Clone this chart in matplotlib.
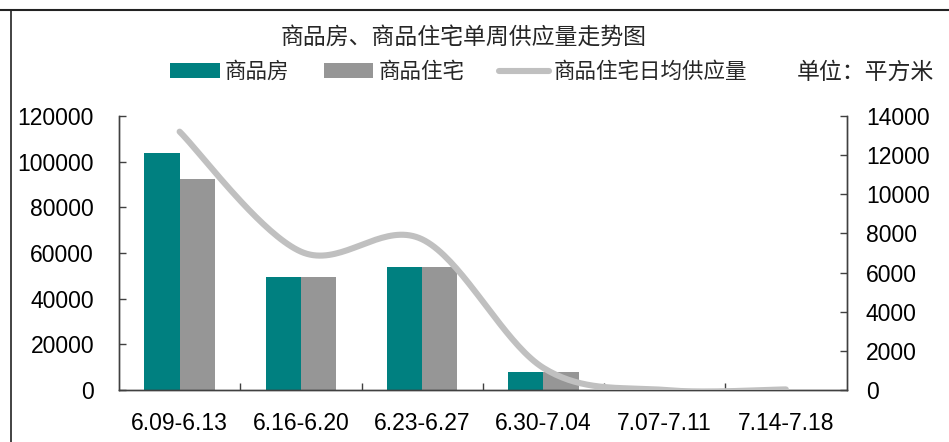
import numpy as np
import matplotlib
matplotlib.use("Agg")
import matplotlib.pyplot as plt
from matplotlib.patches import Patch
from matplotlib.lines import Line2D
from matplotlib.ticker import FixedLocator, NullFormatter, FixedFormatter

CJK = ["Noto Sans CJK SC", "DejaVu Sans"]
NUM = ["Liberation Sans", "DejaVu Sans"]

weeks = ["6.09-6.13", "6.16-6.20", "6.23-6.27", "6.30-7.04", "7.07-7.11", "7.14-7.18"]
commercial = [104000, 49500, 53900, 7900, 0, 0]        # 商品房
residential = [92400, 49500, 53900, 7900, 0, 0]       # 商品住宅
daily_avg = [13200, 7070, 7700, 1130, 0, 30]          # 商品住宅日均供应量
left_ticks = [0, 20000, 40000, 60000, 80000, 100000, 120000]
right_ticks = [0, 2000, 4000, 6000, 8000, 10000, 12000, 14000]

TEAL = "#008080"
GRAY = "#969696"
LINE = "#C0C0C0"
SPINE = "#404040"
TEXT = "#262626"


def smooth(xs, ys, n=40):
    """Cubic Bezier smoothing through every point (spreadsheet-style)."""
    xs = np.asarray(xs, float)
    ys = np.asarray(ys, float)
    pts = np.column_stack([xs, ys])
    m = len(pts)
    out = []
    t = np.linspace(0, 1, n)[:, None]
    for i in range(m - 1):
        p0 = pts[max(i - 1, 0)]
        p1 = pts[i]
        p2 = pts[i + 1]
        p3 = pts[min(i + 2, m - 1)]
        c1 = p1 + (p2 - p0) / 6.0
        c2 = p2 - (p3 - p1) / 6.0
        seg = ((1 - t) ** 3) * p1 + 3 * ((1 - t) ** 2) * t * c1 + 3 * (1 - t) * t ** 2 * c2 + t ** 3 * p2
        out.append(seg if i == 0 else seg[1:])
    seg = np.vstack(out)
    return seg[:, 0], seg[:, 1]


fig = plt.figure(figsize=(9.49, 4.42), dpi=100)
ax = fig.add_axes([119 / 949, 1 - 390 / 442, (846.5 - 119) / 949, (390 - 116) / 442])
ax2 = ax.twinx()

x = np.arange(len(weeks))
bw = 0.29
ax.bar(x - bw / 2, commercial, width=bw, color=TEAL, zorder=2)
ax.bar(x + bw / 2, residential, width=bw, color=GRAY, zorder=2)

sx, sy = smooth(x, daily_avg)
ax2.plot(sx, sy, color=LINE, lw=4.4, solid_capstyle="round", zorder=3)

ax.set_xlim(-0.5, len(weeks) - 0.5)
ax.set_ylim(0, 120000)
ax2.set_ylim(0, 14000)

# category boundaries as ticks, labels at centers
ax.xaxis.set_major_locator(FixedLocator(np.arange(0.5, len(weeks) - 0.5, 1)))
ax.xaxis.set_major_formatter(NullFormatter())
ax.xaxis.set_minor_locator(FixedLocator(x))
ax.xaxis.set_minor_formatter(FixedFormatter(weeks))
ax.tick_params(axis="x", which="major", direction="in", length=5, width=1, color=SPINE)
ax.tick_params(axis="x", which="minor", length=0, pad=16, labelsize=16.5)

ax.set_yticks(left_ticks)
ax.set_yticklabels([str(v) for v in left_ticks])
ax.tick_params(axis="y", direction="in", length=5, width=1, color=SPINE, pad=18, labelsize=16.5)
ax2.set_yticks(right_ticks)
ax2.set_yticklabels([str(v) for v in right_ticks])
ax2.tick_params(axis="y", direction="in", length=5, width=1, color=SPINE, pad=14, labelsize=16.5)

for lab in ax.get_xticklabels(minor=True) + ax.get_yticklabels() + ax2.get_yticklabels():
    lab.set_fontfamily(NUM)

for a in (ax, ax2):
    a.spines["top"].set_visible(False)
    for s in ("left", "right", "bottom"):
        a.spines[s].set_color(SPINE)
        a.spines[s].set_linewidth(1)

# title and legend
fig.text(464 / 949, 1 - 37 / 442, "商品房、商品住宅单周供应量走势图", ha="center", va="center",
         fontsize=16.5, family=CJK, color=TEXT)
handles = [
    Patch(facecolor=TEAL, edgecolor="none", label="商品房"),
    Patch(facecolor=GRAY, edgecolor="none", label="商品住宅"),
    Line2D([], [], color=LINE, lw=4.4, solid_capstyle="round", label="商品住宅日均供应量"),
]
leg = fig.legend(handles=handles, loc="center left", bbox_to_anchor=(170 / 949, 1 - 72 / 442), ncol=3,
                 frameon=False, borderpad=0, borderaxespad=0, handlelength=2.3, handleheight=0.65,
                 handletextpad=0.25, columnspacing=1.6, prop={"family": CJK, "size": 15.5})
for t in leg.get_texts():
    t.set_color(TEXT)
fig.text(797 / 949, 1 - 72 / 442, "单位：平方米", ha="left", va="center", fontsize=16.5, family=CJK,
         color=TEXT)

# outer frame lines (top and left)
fig.add_artist(Line2D([0, 1], [1 - 10 / 442, 1 - 10 / 442], transform=fig.transFigure, color="#222222", lw=1.5))
fig.add_artist(Line2D([11 / 949, 11 / 949], [0, 1 - 10 / 442], transform=fig.transFigure, color="#222222", lw=1.2))

fig.savefig("out.png", dpi=100)
